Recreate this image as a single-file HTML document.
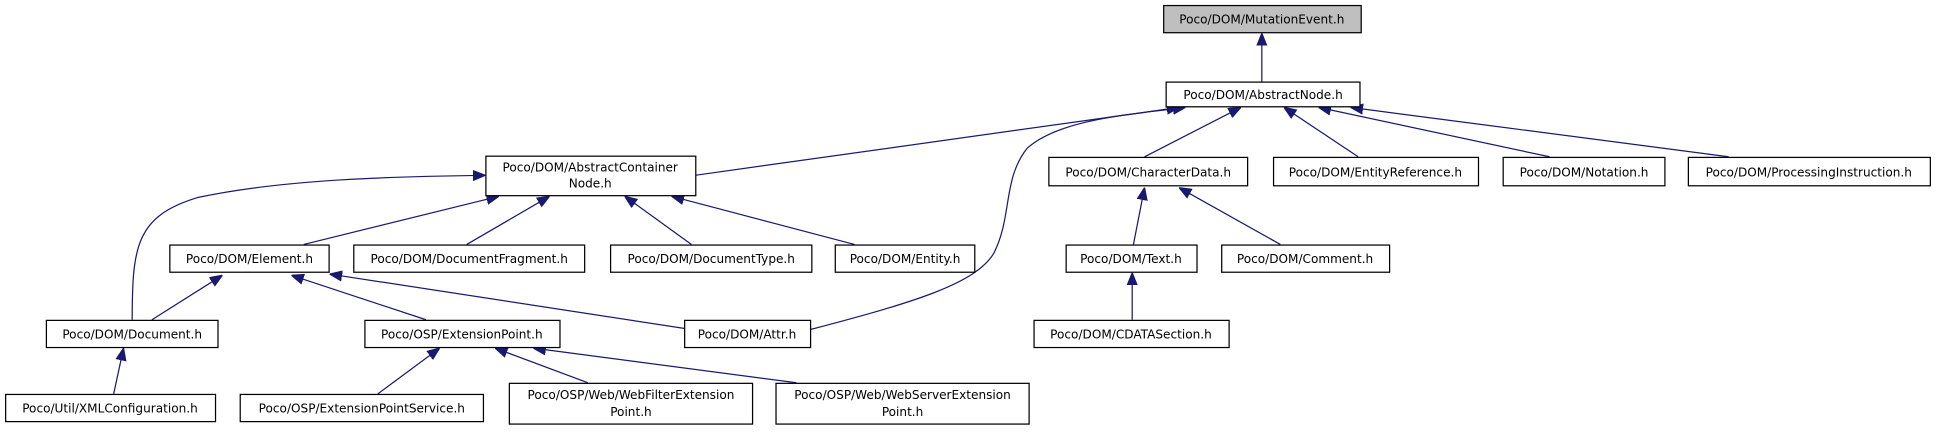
<!DOCTYPE html>
<html><head><style>
html,body{margin:0;padding:0;background:#fff;}
svg{display:block;}
text{font-family:"DejaVu Sans","Liberation Sans",sans-serif;font-size:9.8px;fill:#000;text-anchor:middle;}
.b{fill:#fff;stroke:#000;stroke-width:1;}
.e{stroke:#191970;stroke-width:1;fill:none;marker-end:url(#a);}
</style></head><body>
<svg width="1936" height="440" viewBox="0 0 1568 356.4" xmlns="http://www.w3.org/2000/svg">
<defs><marker id="a" markerUnits="userSpaceOnUse" markerWidth="10" markerHeight="10" viewBox="0 0 10 10" refX="10" refY="5" orient="auto"><path d="M0,1 L10,5 L0,9 z" fill="#191970" stroke="#191970"/></marker></defs>

<!-- edges -->
<line class="e" x1="1022" y1="66" x2="1022" y2="27"/>
<line class="e" x1="563" y1="142" x2="955" y2="87"/>
<path class="e" d="M656,267 C740,245 790,230 805,205 C820,175 812,145 832,120 C860,95 925,92 960,87"/>
<line class="e" x1="927" y1="127" x2="1005" y2="87"/>
<line class="e" x1="1100" y1="127" x2="1040" y2="87"/>
<line class="e" x1="1255" y1="127" x2="1068" y2="87"/>
<line class="e" x1="1400" y1="127" x2="1094" y2="87"/>
<line class="e" x1="246" y1="198" x2="404" y2="159"/>
<line class="e" x1="378" y1="198" x2="445" y2="159"/>
<line class="e" x1="560" y1="198" x2="506" y2="159"/>
<line class="e" x1="692" y1="198" x2="544" y2="159"/>
<path class="e" d="M107,259 C107,200 110,175 160,160 C230,145 320,143 393,142"/>
<line class="e" x1="123" y1="259" x2="180" y2="223"/>
<line class="e" x1="345" y1="259" x2="236" y2="223"/>
<line class="e" x1="554" y1="266" x2="267" y2="222"/>
<line class="e" x1="918" y1="198" x2="927" y2="152"/>
<line class="e" x1="1037" y1="198" x2="955" y2="152"/>
<line class="e" x1="917" y1="259" x2="917" y2="221"/>
<line class="e" x1="92" y1="319" x2="100" y2="282"/>
<line class="e" x1="306" y1="319" x2="356" y2="282"/>
<line class="e" x1="476" y1="310" x2="401" y2="282"/>
<line class="e" x1="645" y1="310" x2="432" y2="282"/>

<!-- nodes -->
<rect x="942.5" y="4.5" width="160" height="22" style="fill:#bfbfbf;stroke:#000"/><text x="1022" y="19">Poco/DOM/MutationEvent.h</text>
<rect class="b" x="944.5" y="66.5" width="157" height="20"/><text x="1023" y="80">Poco/DOM/AbstractNode.h</text>
<rect class="b" x="393.5" y="126.5" width="170" height="32"/><text x="478" y="139">Poco/DOM/AbstractContainer</text><text x="478" y="152">Node.h</text>
<rect class="b" x="849.5" y="127.5" width="161" height="23"/><text x="930" y="143">Poco/DOM/CharacterData.h</text>
<rect class="b" x="1031.5" y="127.5" width="166" height="23"/><text x="1114" y="143">Poco/DOM/EntityReference.h</text>
<rect class="b" x="1217.5" y="127.5" width="131" height="23"/><text x="1283" y="143">Poco/DOM/Notation.h</text>
<rect class="b" x="1367.5" y="127.5" width="196" height="23"/><text x="1465" y="143">Poco/DOM/ProcessingInstruction.h</text>
<rect class="b" x="137.5" y="198.5" width="129" height="22"/><text x="202" y="213">Poco/DOM/Element.h</text>
<rect class="b" x="286.5" y="198.5" width="187" height="22"/><text x="380" y="213">Poco/DOM/DocumentFragment.h</text>
<rect class="b" x="494.5" y="198.5" width="163" height="22"/><text x="576" y="213">Poco/DOM/DocumentType.h</text>
<rect class="b" x="676.5" y="198.5" width="113" height="22"/><text x="733" y="213">Poco/DOM/Entity.h</text>
<rect class="b" x="863.5" y="198.5" width="106" height="22"/><text x="916" y="213">Poco/DOM/Text.h</text>
<rect class="b" x="989.5" y="198.5" width="136" height="22"/><text x="1057" y="213">Poco/DOM/Comment.h</text>
<rect class="b" x="37.5" y="259.5" width="139" height="22"/><text x="107" y="274">Poco/DOM/Document.h</text>
<rect class="b" x="295.5" y="259.5" width="158" height="22"/><text x="374" y="274">Poco/OSP/ExtensionPoint.h</text>
<rect class="b" x="554.5" y="259.5" width="102" height="22"/><text x="605" y="274">Poco/DOM/Attr.h</text>
<rect class="b" x="837.5" y="259.5" width="158" height="22"/><text x="916" y="274">Poco/DOM/CDATASection.h</text>
<rect class="b" x="4.5" y="319.5" width="170" height="22"/><text x="89" y="334">Poco/Util/XMLConfiguration.h</text>
<rect class="b" x="194.5" y="319.5" width="197" height="22"/><text x="293" y="334">Poco/OSP/ExtensionPointService.h</text>
<rect class="b" x="412.5" y="310.5" width="197" height="33"/><text x="511" y="323">Poco/OSP/Web/WebFilterExtension</text><text x="511" y="337">Point.h</text>
<rect class="b" x="628.5" y="310.5" width="205" height="33"/><text x="731" y="323">Poco/OSP/Web/WebServerExtension</text><text x="731" y="337">Point.h</text>
</svg>
</body></html>
